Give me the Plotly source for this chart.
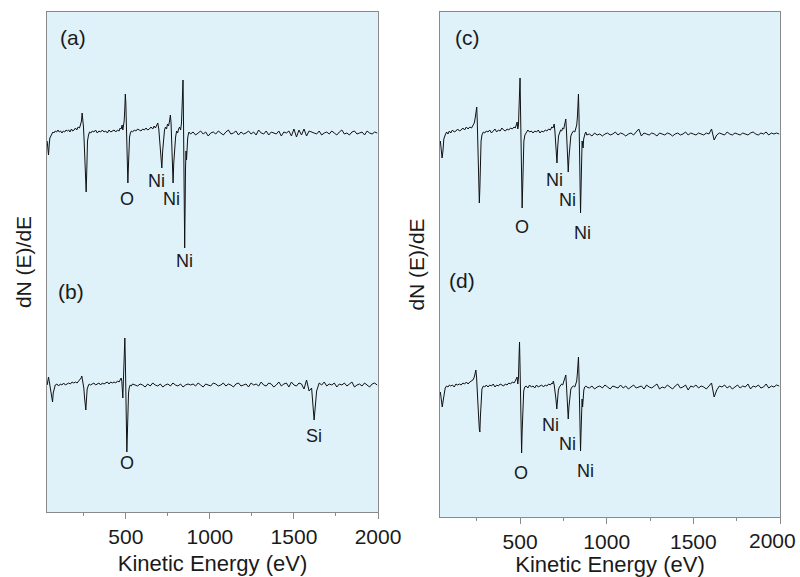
import plotly.graph_objects as go

# ---------------- data (signal amplitudes, arbitrary units) ----------------
tail_E = list(range(885, 2001, 15))  # common sampling grid 885..1995 eV

a_head_E = [32, 36, 40, 44, 48, 54, 60, 66, 72, 80, 88, 96, 104, 112, 120, 128, 136, 144, 152, 160,
            168, 176, 184, 192, 200, 208, 216, 224, 230, 236, 240, 244, 248, 252, 256, 260, 264, 268,
            272, 278, 284, 292, 300, 310, 320, 330, 340, 350, 360, 370, 380, 390, 400, 410, 420, 430,
            440, 450, 460, 466, 472, 478, 482, 486, 490, 494, 497, 500, 503, 506, 509, 512, 515, 518,
            522, 527, 533, 540, 550, 560, 570, 580, 590, 600, 610, 620, 630, 640, 650, 660, 668, 676,
            684, 690, 696, 702, 708, 714, 719, 724, 730, 736, 742, 748, 754, 760, 765, 769, 773, 777,
            781, 785, 790, 796, 802, 808, 814, 820, 826, 831, 835, 838, 840, 842, 844, 846, 848, 850,
            852, 855, 858, 861, 864, 868, 872, 876, 880]
a_head_S = [-8, -16, -22, -12, -5, -3, -1, 1, 0, 2, 1, 3, 1, 2, 0, 2, 1, 3, 2, 3,
            1, 4, 2, 3, 5, 3, 6, 5, 8, 12, 20, 14, 6, -8, -30, -55, -59, -35,
            -8, -2, 1, 0, 2, 1, 3, 0, 2, 1, 3, 1, 2, 0, 3, 1, 2, 3,
            1, 3, 2, 5, 4, 8, 3, 6, 12, 25, 39, 30, 5, -20, -45, -50, -35, -15,
            -4, 0, 2, 1, 3, 2, 4, 3, 2, 4, 3, 5, 3, 4, 6, 4, 7, 5,
            8, 10, 4, -8, -25, -35, -18, -4, 3, 6, 4, 9, 7, 12, 18, 10, -10, -35,
            -50, -30, -12, -4, 2, 0, 4, 6, 3, 10, 28, 45, 53, 30, 0, -45, -90, -115,
            -85, -35, -18, -27, -15, -5, -1, 1, 0]
a_tail_S = [-1, 1, -2, 0, 2, -1, 1, -3, 0, 1, -1, 2, 0, -2, 1,
            3, -1, 0, 2, -2, 1, -1, 0, 2, -1, 1, -2, 3, 0, -1,
            2, -2, 1, 0, -1, 2, -3, 1, 0, 2, -3, 4, -4, 3, -2,
            4, -3, 2, 1, 0, -1, 2, -2, 0, 1, -1, 2, 0, -2, 1,
            3, -1, 0, -2, 1, 2, -1, 0, 1, -2, 2, 0, -1, 1, 0]

b_head_E = [32, 36, 40, 46, 52, 58, 64, 68, 74, 80, 90, 100, 110, 120, 130, 140, 150, 160, 170, 180,
            190, 200, 210, 220, 228, 234, 238, 242, 246, 250, 254, 258, 262, 266, 270, 276, 282, 290,
            300, 310, 320, 330, 340, 350, 360, 370, 380, 390, 400, 410, 420, 430, 440, 450, 460, 466,
            472, 476, 479, 482, 485, 488, 491, 494, 497, 500, 503, 506, 509, 512, 516, 520, 526, 532,
            540, 555, 570, 585, 600, 615, 630, 645, 660, 675, 690, 705, 720, 735, 750, 765, 780, 795,
            810, 825, 840, 855, 870]
b_head_S = [0, 3, 8, 2, -5, -14, -17, -8, -2, 0, 1, -1, 1, 0, 2, 0, 1, 2, 1, 3,
            2, 3, 2, 4, 5, 7, 9, 6, 2, -3, -12, -22, -25, -14, -4, -1, 1, 0,
            1, 2, 0, 1, 2, 0, 2, 1, 2, 3, 1, 3, 2, 3, 2, 4, 3, 5,
            7, 4, -10, -13, 2, 12, 30, 47, 25, -15, -50, -67, -50, -25, -8, -3, 0, -1,
            1, 0, -1, 1, 0, -2, 1, -1, 2, 0, -1, 1, -2, 0, 1, -1, 2, 0,
            -1, 1, -2, 0, 1]
b_tail_S = [0, 1, -1, 2, 0, -2, 1, 0, -1, 2, 1, -1, 0, 2, -1,
            1, 0, -2, 1, 2, -1, 0, 1, -2, 2, 0, 1, -1, 3, 0,
            -1, 2, 1, -2, 0, 3, -1, 1, 2, -2, 3, 0, -1, 2, 1,
            -4, 5, -6, -3, -35, -6, 2, 0, 3, -1, 1, 0, 2, -2, 1,
            0, 2, -1, 1, 3, -2, 0, 1, -1, 2, 0, -2, 1, 2, 0]

c_head_E = [40, 45, 50, 55, 60, 68, 76, 84, 92, 100, 110, 120, 130, 140, 150, 160, 170, 180, 190, 200,
            210, 220, 228, 236, 242, 246, 250, 253, 256, 259, 262, 265, 268, 271, 275, 280, 288, 296,
            305, 315, 325, 335, 345, 355, 365, 375, 385, 395, 405, 415, 425, 435, 445, 455, 465, 472,
            478, 483, 487, 491, 494, 497, 500, 503, 506, 509, 512, 515, 518, 522, 528, 535, 545, 555,
            565, 575, 585, 595, 605, 615, 625, 635, 645, 655, 665, 675, 683, 690, 697, 701, 705, 709,
            713, 717, 722, 728, 734, 740, 746, 752, 757, 761, 764, 767, 770, 774, 778, 782, 787, 793,
            800, 808, 816, 822, 827, 831, 834, 837, 840, 843, 846, 849, 852, 855, 858, 861, 864, 867,
            871, 876, 880]
c_head_S = [-8, -15, -25, -18, -6, -2, 1, -1, 2, 0, 3, 1, 2, 4, 2, 3, 5, 3, 6, 4,
            6, 5, 8, 10, 16, 20, 26, 12, -10, -40, -60, -70, -55, -25, -8, -2, 1, 0,
            2, 1, 3, 0, 2, 4, 1, 3, 2, 5, 3, 2, 4, 3, 5, 4, 6, 5,
            8, 11, 4, 8, 25, 45, 55, 20, -20, -55, -75, -55, -25, -8, -2, 0, 3, 1,
            2, 0, 2, 1, 3, 0, 2, 1, 3, 2, 4, 3, 6, 5, 9, 2, -8, -22,
            -30, -15, -3, 0, 3, 2, 5, 4, 8, 11, 14, 5, -10, -30, -39, -25, -10, -3,
            0, 2, 1, 4, 8, 16, 30, 39, 18, -15, -55, -80, -55, -20, -8, -12, -15, -6,
            -1, 0, 1]
c_tail_S = [-2, -1, -3, 0, -2, -1, -3, -1, 0, -2, -1, 1, -2, 0, -1,
            -3, -1, 0, -2, 1, 4, -3, 0, -1, -2, 0, -1, -3, 0, -1,
            -2, 0, -1, -3, -1, 0, -2, -1, 1, -2, 0, -1, -2, 0, -1,
            -2, 0, -1, 4, -7, -2, 0, -1, -2, 1, -1, -2, 0, -1, -2,
            0, -1, -2, 0, 1, -1, -2, 0, -1, 1, -2, 0, -1, 0, -1]

d_head_E = [40, 45, 51, 56, 61, 68, 76, 84, 92, 100, 110, 120, 130, 140, 150, 160, 170, 180, 190, 200,
            210, 220, 228, 236, 241, 245, 249, 253, 257, 261, 265, 268, 271, 275, 280, 288, 296,
            305, 315, 325, 335, 345, 355, 365, 375, 385, 395, 405, 415, 425, 435, 445, 455, 465, 472,
            478, 483, 487, 491, 494, 497, 500, 503, 506, 509, 512, 516, 521, 527, 535, 545, 555,
            565, 575, 585, 595, 605, 615, 625, 635, 645, 655, 665, 675, 683, 688, 692, 697, 702, 707,
            712, 716, 721, 727, 734, 740, 746, 752, 757, 761, 764, 767, 770, 774, 778, 782, 787, 793,
            800, 808, 816, 822, 827, 831, 834, 837, 840, 843, 846, 849, 852, 855, 858, 861, 864, 868,
            873, 880]
d_head_S = [-5, -12, -20, -14, -6, -1, 1, 0, 2, 1, 2, 0, 3, 2, 3, 2, 4, 3, 5, 3,
            5, 6, 7, 10, 14, 17, 10, 0, -15, -30, -42, -45, -30, -10, -2, 1, 0,
            2, 0, 2, 1, 3, 0, 2, 1, 3, 2, 1, 3, 2, 4, 3, 5, 4, 6,
            8, 10, 3, 10, 30, 45, 20, -15, -50, -66, -45, -15, -4, 0, 1, -1, 2,
            0, 1, -1, 2, 0, 1, 2, 0, 2, 1, 3, 2, 4, 3, 6, 2, -4, -12,
            -22, -12, -3, 0, 2, 3, 2, 5, 7, 9, 12, 4, -8, -22, -32, -20, -8, -2,
            0, 1, 0, 3, 6, 14, 22, 30, 12, -10, -40, -64, -45, -15, -12, -20, -10, -3,
            0, 1]
d_tail_S = [0, -1, 1, -2, 0, 1, -1, 2, 0, -2, 1, 0, -1, 2, -1,
            1, -2, 0, 2, -1, 0, 1, -2, 2, 0, -1, 1, 3, -2, 0,
            -1, 2, 0, -2, 1, 3, -1, 0, 2, -3, 1, 0, 2, -1, 1,
            0, -2, 1, 4, -10, -3, 1, 0, 2, -1, 1, -2, 0, 2, -1,
            1, 0, 3, -2, 1, 0, 2, -1, 0, 3, -1, 1, 0, 2, 1]

# peak labels: (text, energy, level) per panel
labels_a = [("Ni", 680, 331), ("O", 506, 313), ("Ni", 774, 313), ("Ni", 850, 251)]
labels_b = [("O", 506, 49), ("Si", 1622, 76)]
labels_c = [("Ni", 697, 337), ("Ni", 773, 317), ("O", 510, 290), ("Ni", 858, 284)]
labels_d = [("Ni", 676, 92), ("Ni", 773, 73), ("O", 503, 44), ("Ni", 875, 46)]

x_major = [500, 1000, 1500, 2000]
x_major_text = ["500", "1000", "1500", "2000"]
x_minor = [250, 750, 1250, 1750]

# ---------------- styling / layout constants ----------------
OFF = {"a": 379, "b": 127, "c": 384, "d": 130}
LINE = dict(color="#111111", width=1)
FONT = "Liberation Sans, Arial, Helvetica, sans-serif"
TXT = "#1a1a1a"

fig = go.Figure()


def add_spec(headE, headS, tailS, off, xa, ya):
    E = headE + tail_E
    S = headS + tailS
    fig.add_trace(go.Scatter(x=E, y=[s + off for s in S], mode="lines", line=LINE,
                             xaxis=xa, yaxis=ya, showlegend=False, hoverinfo="skip"))


add_spec(a_head_E, a_head_S, a_tail_S, OFF["a"], "x", "y")
add_spec(b_head_E, b_head_S, b_tail_S, OFF["b"], "x", "y")
add_spec(c_head_E, c_head_S, c_tail_S, OFF["c"], "x2", "y2")
add_spec(d_head_E, d_head_S, d_tail_S, OFF["d"], "x2", "y2")

ann = []
for labs, xr, yr in [(labels_a, "x", "y"), (labels_b, "x", "y"), (labels_c, "x2", "y2"), (labels_d, "x2", "y2")]:
    for t, e, lv in labs:
        ann.append(dict(text=t, x=e, y=lv, xref=xr, yref=yr, showarrow=False,
                        font=dict(family=FONT, size=18, color=TXT)))

for t, e, lv, xr, yr in [("(a)", 188, 475, "x", "y"), ("(b)", 176, 221, "x", "y"),
                         ("(c)", 196, 480, "x2", "y2"), ("(d)", 166, 237, "x2", "y2")]:
    ann.append(dict(text=t, x=e, y=lv, xref=xr, yref=yr, showarrow=False,
                    font=dict(family=FONT, size=21, color=TXT)))

# last tick label of the right panel: drawn nudged left so it stays inside the page
ann.append(dict(text=x_major_text[-1], x=x_major[-1], xref="x2", y=1 - 540 / 577, yref="paper",
                xanchor="center", yanchor="middle", xshift=-8, showarrow=False,
                font=dict(family=FONT, size=21, color=TXT)))

xcommon = dict(showline=True, mirror=True, linecolor="#8a8a8a", linewidth=1, automargin=False,
               showgrid=False, zeroline=False, ticks="outside", ticklen=6, tickcolor="#8a8a8a",
               tickvals=x_major,
               minor=dict(tickvals=x_minor, ticks="outside", ticklen=3, tickcolor="#8a8a8a", showgrid=False),
               tickfont=dict(family=FONT, size=21, color=TXT),
               title=dict(text="Kinetic Energy (eV)", standoff=8,
                          font=dict(family=FONT, size=22, color=TXT)))
ycommon = dict(showline=True, mirror=True, linecolor="#8a8a8a", linewidth=1, automargin=False,
               showgrid=False, zeroline=False, ticks="", showticklabels=False,
               title=dict(text="dN (E)/dE", standoff=8,
                          font=dict(family=FONT, size=21, color=TXT)))

fig.update_layout(
    width=800, height=577,
    margin=dict(l=0, r=0, t=0, b=0),
    paper_bgcolor="white", plot_bgcolor="#dff1f9",
    xaxis=dict(xcommon, domain=[47 / 800, 378 / 800], range=[31, 2000], anchor="y",
               ticktext=x_major_text, ticklabeloverflow="allow"),
    xaxis2=dict(xcommon, domain=[440 / 800, 780 / 800], range=[38, 2000], anchor="y2",
                ticktext=x_major_text[:-1] + [""]),
    yaxis=dict(ycommon, domain=[1 - 512 / 577, 1 - 12 / 577], range=[0, 500], anchor="x"),
    yaxis2=dict(ycommon, domain=[1 - 517 / 577, 1 - 12 / 577], range=[0, 505], anchor="x2"),
    annotations=ann,
)

fig.write_html("out.html")
